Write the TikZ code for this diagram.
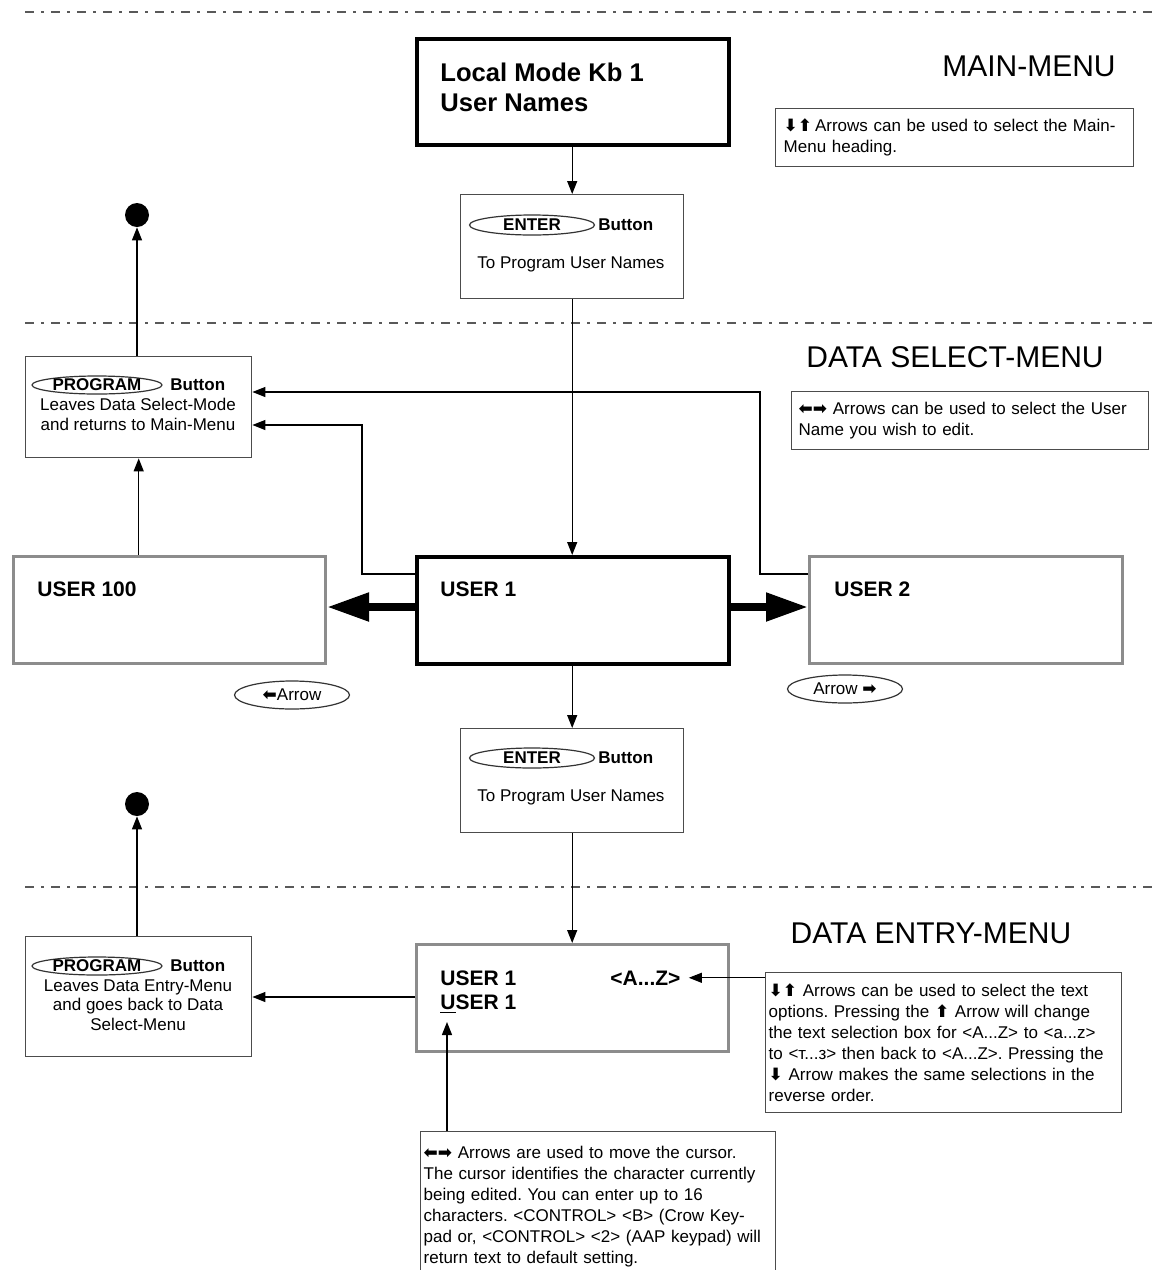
\documentclass[tikz,border=0pt]{standalone}
\usepackage{fontspec}
\setmainfont{Liberation Sans}
\newfontfamily\arrowfont{DejaVu Sans}
\usetikzlibrary{arrows.meta,shapes.geometric,positioning}
\frenchspacing

\newcommand{\dnkey}{{\arrowfont\bfseries ⬇}}
\newcommand{\upkey}{{\arrowfont\bfseries ⬆}}
\newcommand{\lfkey}{{\arrowfont\bfseries ⬅}}
\newcommand{\rtkey}{{\arrowfont\bfseries ➡}}

\tikzset{
	screen/.style={draw=black,line width=2pt,anchor=north west,inner sep=0pt},
	panel/.style={draw=black!45,line width=1.5pt,anchor=north west,inner sep=0pt},
	btnbox/.style={draw=black!70,line width=0.7pt,anchor=north west,inner sep=0pt},
	note/.style={draw=black!70,line width=0.7pt,anchor=north west,align=left,inner ysep=4pt,
		font=\fontsize{8.5}{10.5}\selectfont},
	key/.style={ellipse,draw=black!80,line width=0.6pt,inner sep=0pt,font=\bfseries\fontsize{8.5}{10}\selectfont},
	keylabel/.style={anchor=west,inner sep=0pt,font=\bfseries\fontsize{8.5}{10}\selectfont},
	small/.style={inner sep=0pt,align=center,font=\fontsize{8.5}{10}\selectfont},
	username/.style={anchor=base west,inner sep=0pt,font=\bfseries\fontsize{10.5}{12}\selectfont},
	heading/.style={inner sep=0pt,font=\fontsize{15}{18}\selectfont},
	dot/.style={circle,fill=black,inner sep=0pt,minimum size=12pt},
	conn/.style={-{Triangle[length=6.5pt,width=5pt]},line width=0.6pt},
	bigarrow/.style={-{Triangle[length=21pt,width=13.5pt]},line width=4pt},
	divider/.style={black!65,line width=0.7pt,dash pattern=on 4.5pt off 3.5pt on 1.5pt off 3.5pt}
}

\begin{document}
\begin{tikzpicture}[x=0.5pt,y=-0.5pt]
	\useasboundingbox (0,0) rectangle (1157,1270);

	% menu levels
	\draw[divider] (25,12) -- (1157,12);
	\draw[divider] (25,323) -- (1157,323);
	\draw[divider] (25,887) -- (1157,887);

	\node[heading] (mainhead) at (1029,66) {MAIN-MENU};
	\node[heading] (selhead) at (955,357) {DATA SELECT-MENU};
	\node[heading] (entryhead) at (931,933) {DATA ENTRY-MENU};

	% main menu
	\node[screen,minimum width=156pt,minimum height=53pt] (top) at (415,37) {};
	\node[anchor=north west,align=left,inner sep=0pt,font=\bfseries\fontsize{12.8}{15}\selectfont] (toptext) at (440,63) {Local Mode Kb 1\\User Names};
	\node[note,minimum height=29pt,inner xsep=4pt,text width=171pt] (note1) at (775,108) {\dnkey\upkey\,Arrows can be used to select the Main-\\Menu heading.};

	\node[btnbox,minimum width=111.5pt,minimum height=52pt] (enter1) at (460,194) {};
	\node[key,minimum width=62.5pt,minimum height=10pt] (enterkey1) at (532,225) {ENTER};
	\node[keylabel] (enterbtn1) at (598,225) {Button};
	\node[small] (entertext1) at (571,264) {To Program User Names};

	% data select menu
	\node[btnbox,minimum width=113pt,minimum height=50.5pt] (prog1) at (25,356) {};
	\node[key,minimum width=65pt,minimum height=9pt] (progkey1) at (97,385) {PROGRAM};
	\node[keylabel] (progbtn1) at (170,385) {Button};
	\node[small,anchor=north] (progtext1) at (138,398) {Leaves Data Select-Mode\\and returns to Main-Menu};
	\node[dot] (dot1) at (137,215) {};

	\node[note,minimum height=29pt,inner xsep=3.5pt,text width=171.5pt] (note2) at (791,391) {\lfkey\rtkey\ Arrows can be used to select the User\\Name you wish to edit.};

	\node[panel,minimum width=156pt,minimum height=53.5pt] (user100) at (12,555) {};
	\node[screen,minimum width=156pt,minimum height=53.5pt] (user1) at (415,555) {};
	\node[panel,minimum width=156.5pt,minimum height=53.5pt] (user2) at (808,555) {};
	\node[username] (user100text) at (37,596) {USER 100};
	\node[username] (user1text) at (440,596) {USER 1};
	\node[username] (user2text) at (834,596) {USER 2};

	\node[key,font=\fontsize{8.5}{10}\selectfont,minimum width=57.5pt,minimum height=14pt] (leftkey) at (292,695) {\lfkey Arrow};
	\node[key,font=\fontsize{8.5}{10}\selectfont,minimum width=57.5pt,minimum height=14pt] (rightkey) at (845,689) {Arrow \rtkey};

	\node[btnbox,minimum width=111.5pt,minimum height=52pt] (enter2) at (460,728) {};
	\node[key,minimum width=62.5pt,minimum height=10pt] (enterkey2) at (532,758) {ENTER};
	\node[keylabel] (enterbtn2) at (598,758) {Button};
	\node[small] (entertext2) at (571,797) {To Program User Names};

	% data entry menu
	\node[panel,minimum width=156pt,minimum height=53.5pt] (entry) at (415,943) {};
	\node[username] (entryline1) at (440,985) {USER 1};
	\node[username] (entryline2) at (440,1009) {\underline{U}SER 1};
	\node[username] (charset) at (610,985) {<A...Z>};
	\coordinate (cursor) at (447,1022);

	\node[btnbox,minimum width=113pt,minimum height=60pt] (prog2) at (25,936) {};
	\node[key,minimum width=65pt,minimum height=9pt] (progkey2) at (97,966) {PROGRAM};
	\node[keylabel] (progbtn2) at (170,966) {Button};
	\node[small,anchor=north,font=\fontsize{8.5}{9.75}\selectfont] (progtext2) at (138,979) {Leaves Data Entry-Menu\\and goes back to Data\\Select-Menu};
	\node[dot] (dot2) at (137,804) {};

	\node[note,minimum height=70pt,inner xsep=1.5pt,text width=175pt] (note3) at (765,972) {\dnkey\upkey\ Arrows can be used to select the text\\options. Pressing the \upkey\ Arrow will change\\the text selection box for <A...Z> to <a...z>\\to <т...з> then back to <A...Z>. Pressing the\\\dnkey\ Arrow makes the same selections in the\\reverse order.};
	\node[note,minimum height=75pt,inner xsep=1.5pt,text width=174.5pt] (note4) at (420,1131) {\lfkey\rtkey\ Arrows are used to move the cursor.\\The cursor identifies the character currently\\being edited. You can enter up to 16\\characters. <CONTROL> <B> (Crow Key-\\pad or, <CONTROL> <2> (AAP keypad) will\\return text to default setting.};

	% connectors
	\draw[conn] (top.south -| enter1.north) -- (enter1.north);
	\draw[conn] (enter1.south) -- (user1.north -| enter1.south);
	\draw[conn] (prog1.north -| dot1) -- (dot1.south);
	\draw[conn] (user100.north -| prog1.south) -- (prog1.south);
	\draw[conn] (user1.west |- 0,574) -| (362,425) -- (prog1.east |- 0,425);
	\draw[conn] (user2.west |- 0,574) -| (760,392) -- (prog1.east |- 0,392);
	\draw[bigarrow] (user1.west |- 0,607) -- (user100.east |- 0,607);
	\draw[bigarrow] (user1.east |- 0,607) -- (user2.west |- 0,607);
	\draw[conn] (user1.south -| enter2.north) -- (enter2.north);
	\draw[conn] (enter2.south) -- (entry.north -| enter2.south);
	\draw[conn] (entry.west |- 0,997) -- (prog2.east |- 0,997);
	\draw[conn] (prog2.north -| dot2) -- (dot2.south);
	\draw[conn] (note3.west |- charset.east) -- ([xshift=4pt]charset.east);
	\draw[conn] (note4.north -| cursor) -- (cursor);
\end{tikzpicture}
\end{document}
